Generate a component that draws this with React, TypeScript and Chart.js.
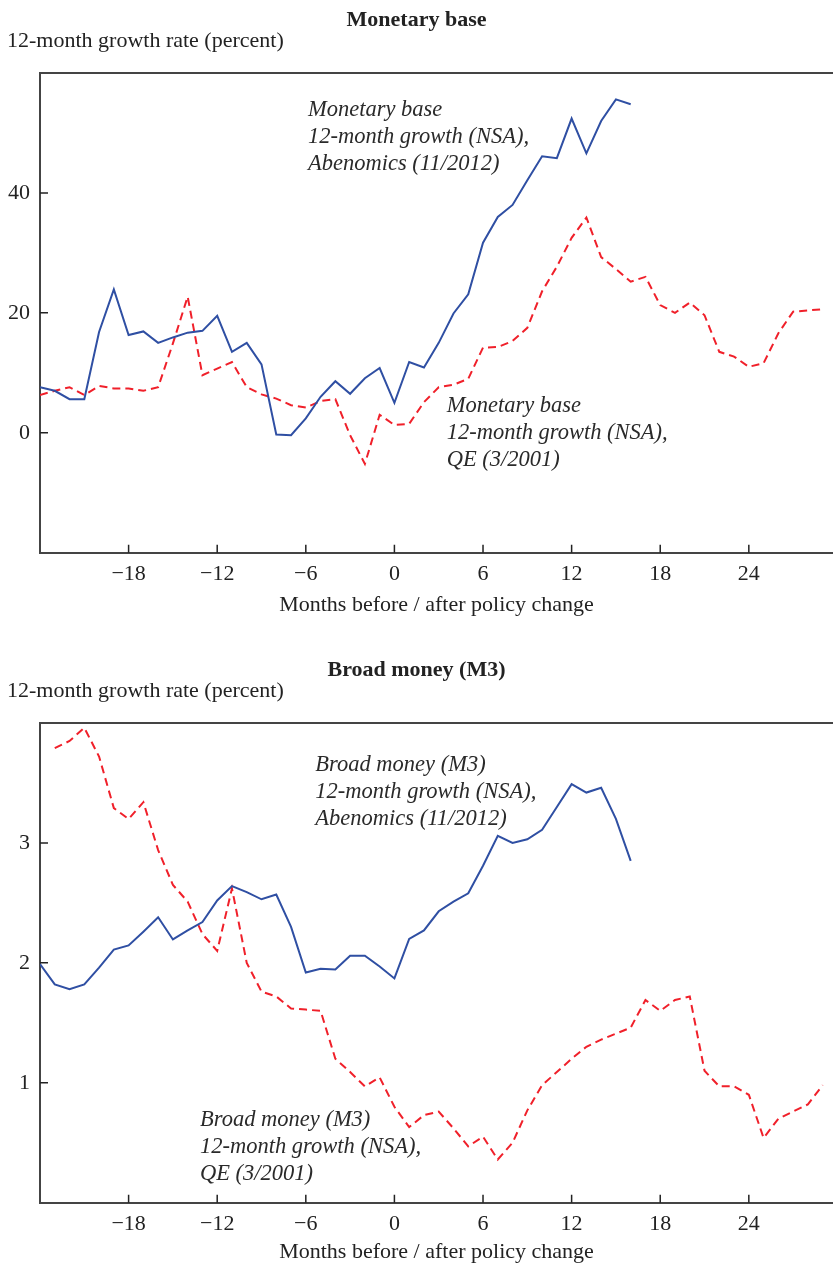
import React, { useEffect, useRef } from "react";
import { Chart, registerables } from "chart.js";

Chart.register(...registerables);

// ---------- data ----------
const monthsAbe = [-24, -23, -22, -21, -20, -19, -18, -17, -16, -15, -14, -13, -12, -11, -10, -9, -8, -7, -6, -5, -4, -3, -2, -1, 0, 1, 2, 3, 4, 5, 6, 7, 8, 9, 10, 11, 12, 13, 14, 15, 16];
const monthsQE = [-24, -23, -22, -21, -20, -19, -18, -17, -16, -15, -14, -13, -12, -11, -10, -9, -8, -7, -6, -5, -4, -3, -2, -1, 0, 1, 2, 3, 4, 5, 6, 7, 8, 9, 10, 11, 12, 13, 14, 15, 16, 17, 18, 19, 20, 21, 22, 23, 24, 25, 26, 27, 28, 29];
const monthsQEm3 = [-23, -22, -21, -20, -19, -18, -17, -16, -15, -14, -13, -12, -11, -10, -9, -8, -7, -6, -5, -4, -3, -2, -1, 0, 1, 2, 3, 4, 5, 6, 7, 8, 9, 10, 11, 12, 13, 14, 15, 16, 17, 18, 19, 20, 21, 22, 23, 24, 25, 26, 27, 28, 29];

const baseAbe = [7.6, 7.0, 5.6, 5.6, 16.8, 23.9, 16.3, 16.9, 15.0, 15.9, 16.7, 17.0, 19.5, 13.5, 15.0, 11.4, -0.3, -0.4, 2.4, 6.0, 8.6, 6.5, 9.1, 10.8, 5.0, 11.8, 10.9, 15.0, 19.9, 23.1, 31.7, 36.0, 38.0, 42.1, 46.1, 45.8, 52.4, 46.6, 52.0, 55.6, 54.8];
const baseQE = [6.3, 7.0, 7.6, 6.3, 7.8, 7.4, 7.4, 7.0, 7.6, 14.9, 22.7, 9.6, 10.7, 11.8, 7.6, 6.4, 5.7, 4.6, 4.2, 5.3, 5.6, -0.4, -5.2, 3.0, 1.3, 1.5, 5.1, 7.6, 8.0, 9.0, 14.2, 14.3, 15.3, 17.5, 23.6, 27.7, 32.5, 35.9, 29.3, 27.3, 25.2, 26.0, 21.3, 20.0, 21.7, 19.6, 13.5, 12.7, 11.0, 11.6, 16.6, 20.2, 20.4, 20.6];

const m3Abe = [1.99, 1.82, 1.78, 1.82, 1.96, 2.11, 2.145, 2.26, 2.38, 2.195, 2.27, 2.34, 2.52, 2.64, 2.59, 2.53, 2.57, 2.30, 1.92, 1.95, 1.945, 2.06, 2.06, 1.97, 1.87, 2.20, 2.27, 2.43, 2.51, 2.58, 2.81, 3.06, 3.00, 3.03, 3.11, 3.30, 3.49, 3.42, 3.46, 3.20, 2.85];
const m3QE = [3.79, 3.85, 3.96, 3.72, 3.29, 3.20, 3.34, 2.94, 2.65, 2.51, 2.24, 2.10, 2.62, 2.00, 1.76, 1.72, 1.62, 1.61, 1.60, 1.20, 1.09, 0.97, 1.045, 0.80, 0.63, 0.73, 0.76, 0.62, 0.47, 0.55, 0.36, 0.50, 0.77, 0.98, 1.09, 1.20, 1.30, 1.36, 1.41, 1.46, 1.69, 1.60, 1.69, 1.72, 1.10, 0.97, 0.97, 0.90, 0.54, 0.70, 0.76, 0.82, 0.98];

const xTickValues = [-18, -12, -6, 0, 6, 12, 18, 24];
const yTicksBase = [0, 20, 40];
const yTicksM3 = [1, 2, 3];

const FONT = '"Liberation Serif", "Times New Roman", serif';
const TEXT = "#222";
const AXIS = "#444";
const BLUE = "#2f4fa3";
const RED = "#f0202a";

type Note = { lines: string[]; x: number; y: number };

type PanelCfg = {
  height: number;
  title: string;
  xTitleY: number;
  yMin: number;
  yMax: number;
  yTicks: number[];
  abeX: number[];
  abeY: number[];
  qeX: number[];
  qeY: number[];
  notes: Note[];
};

const fmt = (v: number) => (v < 0 ? "\u2212" + Math.abs(v) : String(v));

function Panel({ cfg }: { cfg: PanelCfg }) {
  const ref = useRef<HTMLCanvasElement | null>(null);
  useEffect(() => {
    const canvas = ref.current;
    if (!canvas) return;
    const plotBottom = 552.7;
    const decor = {
      id: "decor",
      afterDraw(chart: any) {
        const ctx = chart.ctx;
        const { left, right, top, bottom } = chart.chartArea;
        const xs = chart.scales.x;
        const ys = chart.scales.y;
        ctx.save();
        ctx.strokeStyle = AXIS;
        ctx.lineWidth = 2;
        ctx.beginPath();
        ctx.moveTo(left - 1, top);
        ctx.lineTo(right, top);
        ctx.stroke();
        ctx.lineWidth = 1.5;
        ctx.strokeStyle = "#222";
        ctx.beginPath();
        xTickValues.forEach((v) => {
          const p = xs.getPixelForValue(v);
          ctx.moveTo(p, bottom);
          ctx.lineTo(p, bottom - 8);
        });
        cfg.yTicks.forEach((v) => {
          const p = ys.getPixelForValue(v);
          ctx.moveTo(left, p);
          ctx.lineTo(left + 8, p);
        });
        ctx.stroke();
        ctx.fillStyle = TEXT;
        ctx.textBaseline = "alphabetic";
        ctx.font = `bold 22px ${FONT}`;
        ctx.textAlign = "center";
        ctx.fillText(cfg.title, chart.width / 2, 26);
        ctx.font = `22px ${FONT}`;
        ctx.textAlign = "left";
        ctx.fillText("12-month growth rate (percent)", 7, 47);
        ctx.textAlign = "center";
        ctx.fillText("Months before / after policy change", (left + right) / 2, cfg.xTitleY);
        ctx.textAlign = "left";
        ctx.font = `italic 22.5px ${FONT}`;
        ctx.fillStyle = "#2a2a2a";
        cfg.notes.forEach((n) => {
          n.lines.forEach((t, i) => ctx.fillText(t, n.x, n.y + i * 27.2));
        });
        ctx.restore();
      },
    };
    const chart = new Chart(canvas, {
      type: "line",
      data: {
        datasets: [
          {
            label: "Abenomics",
            data: cfg.abeX.map((x, i) => ({ x, y: cfg.abeY[i] })),
            borderColor: BLUE,
            borderWidth: 2,
            pointRadius: 0,
            tension: 0,
            fill: false,
          },
          {
            label: "QE",
            data: cfg.qeX.map((x, i) => ({ x, y: cfg.qeY[i] })),
            borderColor: RED,
            borderWidth: 2,
            borderDash: [8, 5],
            pointRadius: 0,
            tension: 0,
            fill: false,
          },
        ],
      },
      options: {
        animation: false,
        responsive: false,
        devicePixelRatio: 1,
        layout: { padding: { top: 73, left: 0, right: 0, bottom: 0 } },
        plugins: { legend: { display: false }, title: { display: false }, tooltip: { enabled: false } },
        scales: {
          x: {
            type: "linear",
            min: -24,
            max: 29.7,
            grid: { display: false, drawTicks: false },
            border: { display: true, color: AXIS, width: 2 },
            afterBuildTicks: (s: any) => {
              s.ticks = xTickValues.map((v) => ({ value: v }));
            },
            afterFit: (s: any) => {
              s.height = cfg.height - plotBottom;
            },
            ticks: {
              padding: 8,
              autoSkip: false,
              maxRotation: 0,
              color: TEXT,
              font: { family: FONT, size: 22 },
              callback: (v: any) => fmt(Number(v)),
            },
          },
          y: {
            type: "linear",
            min: cfg.yMin,
            max: cfg.yMax,
            grid: { display: false, drawTicks: false },
            border: { display: true, color: AXIS, width: 2 },
            afterBuildTicks: (s: any) => {
              s.ticks = cfg.yTicks.map((v) => ({ value: v }));
            },
            afterFit: (s: any) => {
              s.width = 40;
            },
            ticks: {
              padding: 10,
              color: TEXT,
              font: { family: FONT, size: 22 },
              callback: (v: any) => fmt(Number(v)),
            },
          },
        },
      } as any,
      plugins: [decor],
    });
    return () => chart.destroy();
  }, [cfg]);
  return <canvas ref={ref} width={833} height={cfg.height} style={{ display: "block", width: 833, height: cfg.height }} />;
}

const topCfg: PanelCfg = {
  height: 650,
  title: "Monetary base",
  xTitleY: 611,
  yMin: -20,
  yMax: 60,
  yTicks: yTicksBase,
  abeX: monthsAbe,
  abeY: baseAbe,
  qeX: monthsQE,
  qeY: baseQE,
  notes: [
    { lines: ["Monetary base", "12-month growth (NSA),", "Abenomics (11/2012)"], x: 308, y: 115.7 },
    { lines: ["Monetary base", "12-month growth (NSA),", "QE (3/2001)"], x: 446.7, y: 411.7 },
  ],
};

const bottomCfg: PanelCfg = {
  height: 617,
  title: "Broad money (M3)",
  xTitleY: 608,
  yMin: 0,
  yMax: 4,
  yTicks: yTicksM3,
  abeX: monthsAbe,
  abeY: m3Abe,
  qeX: monthsQEm3,
  qeY: m3QE,
  notes: [
    { lines: ["Broad money (M3)", "12-month growth (NSA),", "Abenomics (11/2012)"], x: 315.3, y: 121 },
    { lines: ["Broad money (M3)", "12-month growth (NSA),", "QE (3/2001)"], x: 200, y: 475.7 },
  ],
};

export default function App() {
  return (
    <div style={{ position: "absolute", left: 0, top: 0, width: 833, height: 1267, background: "#fff" }}>
      <Panel cfg={topCfg} />
      <Panel cfg={bottomCfg} />
    </div>
  );
}
